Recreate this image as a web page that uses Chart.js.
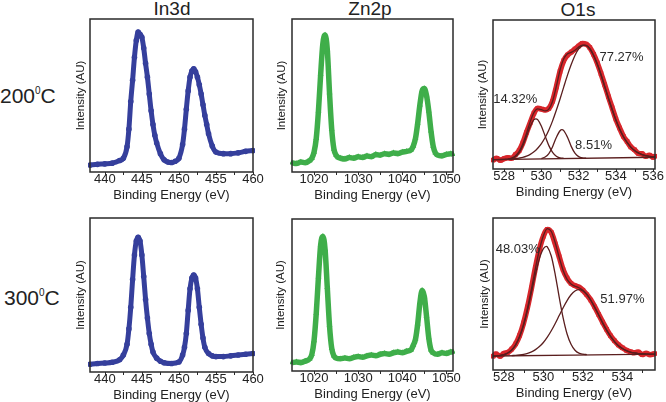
<!DOCTYPE html>
<html><head><meta charset="utf-8">
<script src="https://cdn.jsdelivr.net/npm/chart.js@4/dist/chart.umd.min.js"></script>
<style>
html,body{margin:0;padding:0;background:#fff}
body{width:666px;height:402px;overflow:hidden;position:relative;font-family:"Liberation Sans",Arial,sans-serif;color:#222}
canvas{position:absolute}
.lbl{position:absolute;white-space:nowrap;line-height:1}
.ttl{position:absolute;white-space:nowrap;line-height:1;width:100px;text-align:center;font-size:19px}
</style></head><body>
<div class="ttl" style="left:122px;top:-1px">In3d</div>
<div class="ttl" style="left:320px;top:-1px">Zn2p</div>
<div class="ttl" style="left:528px;top:0px">O1s</div>
<div class="lbl" style="left:0px;top:85px;font-size:21px">200<span style="font-size:10px;position:relative;top:-8.7px">0</span>C</div>
<div class="lbl" style="left:4px;top:287px;font-size:21px">300<span style="font-size:10px;position:relative;top:-8.7px">0</span>C</div>
<script>
// ---------- DATA ----------
const IN_TICKS = [440, 445, 450, 455, 460];
const IN_MINOR = [442.5, 447.5, 452.5, 457.5];
const ZN_TICKS = [1020, 1030, 1040, 1050];
const ZN_MINOR = [1025, 1035, 1045];
const O200_TICKS = [528, 530, 532, 534, 536];
const O300_TICKS = [528, 530, 532, 534];
const O_MINOR = [529, 531, 533, 535];

const IN200_E = [438,439,440,441,442,442.5,443,443.25,443.5,443.75,444,444.25,444.5,444.75,445,445.25,445.5,445.75,446,446.25,446.5,446.75,447,447.5,448,448.5,449,449.5,450,450.5,450.75,451,451.25,451.5,451.75,452,452.25,452.5,452.75,453,453.25,453.5,453.75,454,454.5,455,456,457,458,459,460];
const IN200_I = [4.5,5,5.3,5.8,7.5,9,16.5,28,46,60,75,86,91.5,90,88,81,71,62,51,40,31,24,19,12,8,6.5,6.2,7,9,18,28,41,53,62,66,67.5,65.5,62,57,51,44,37,31,25,17,13,12,12,12.5,13.5,14];

const IN300_E = [438,439,440,441,442,442.5,443,443.25,443.5,443.75,444,444.25,444.5,444.75,445,445.25,445.5,445.75,446,446.25,446.5,447,447.5,448,449,450,450.5,450.75,451,451.25,451.5,451.75,452,452.25,452.5,452.75,453,453.25,453.5,454,454.5,455,456,457,458,459,460];
const IN300_I = [5,5.5,5.8,6.3,8,11,18,28,42,60,76,85,87.5,85,76,62,47,35,25,18,13,9,7,6,5.5,6.5,11,16,25,40,54,61,63,61,54,42,31,22,16,12,10.5,10,10,10.5,11,11.5,12];

const ZN200_E = [1015,1016,1017,1018,1019,1019.5,1020,1020.5,1021,1021.5,1022,1022.5,1023,1023.5,1024,1024.5,1025,1025.5,1026,1027,1028,1029,1030,1031,1032,1033,1034,1035,1036,1037,1038,1039,1040,1041,1042,1042.5,1043,1043.5,1044,1044.5,1045,1045.5,1046,1046.5,1047,1047.5,1048,1049,1050,1051,1051.5];
const ZN200_I = [6,5.5,6.5,6,7.5,9,13,22,40,64,84,89.5,80,52,28,15,11,9.5,9,8.5,9.5,9,10,9.5,10.5,10,11.5,11,12,11.5,12.5,12,13,13.5,14.5,17,22,32,44,53,54.5,50,40,27,17,12.5,11,10.5,11.5,12,11.5];

const ZN300_E = [1015,1016,1017,1018,1019,1019.5,1020,1020.5,1021,1021.5,1022,1022.5,1023,1023.5,1024,1024.5,1025,1026,1027,1028,1029,1030,1031,1032,1033,1034,1035,1036,1037,1038,1039,1040,1041,1042,1042.5,1043,1043.5,1044,1044.5,1045,1045.5,1046,1046.5,1047,1048,1049,1050,1051,1051.5];
const ZN300_I = [5.5,6,5.5,6.5,8,11,20,38,62,83,88.5,80,55,30,15,10,8.5,8,8.5,8,9,9.5,9,10,10.5,10,11,11.5,11,12,12.5,12,13,14,17,21,31,45,53,49,36,22,14,12,11,12,11.5,12.5,12.5];

// O1s 200 C: measured points, envelope, components, background
const O200_E = [527.4,527.6,527.8,528.0,528.2,528.4,528.6,528.8,529.0,529.2,529.4,529.6,529.8,530.0,530.2,530.4,530.6,530.8,531.0,531.2,531.4,531.6,531.8,532.0,532.2,532.4,532.6,532.8,533.0,533.2,533.4,533.6,533.8,534.0,534.2,534.4,534.6,534.8,535.0,535.2,535.4,535.6,535.8,536.0,536.1];
const O200_I = [6.0,7.2,5.9,7.0,7.5,7.2,9.6,12.3,17.5,24.5,31.0,37.5,40.8,40.2,39.6,40.6,45.5,55.0,65.5,72.8,76.5,78.5,80.5,82.5,84.3,83.8,81.5,77.0,71.2,64.0,56.5,48.5,41.0,33.5,27.5,22.0,18.5,14.8,12.9,10.5,10.2,8.6,9.3,7.9,8.6];
const O200_FIT = [6.3,6.33,6.37,6.5,6.7,7.3,8.7,11.6,16.7,23.9,31.8,37.9,40.3,39.8,39.0,40.2,45.5,55.4,66.4,74.0,77.3,78.3,79.7,81.8,83.1,82.9,80.7,76.3,70.4,63.3,55.4,47.5,39.9,32.9,26.9,21.8,17.8,14.7,12.4,10.8,9.7,8.95,8.5,8.2,8.1];
const O200_C1_E = [528.2,528.4,528.6,528.8,529.0,529.2,529.4,529.6,529.7,529.8,530.0,530.2,530.4,530.6,530.8,531.0,531.2];
const O200_C1_I = [6.6,7.1,8.2,10.9,15.5,21.9,28.7,33.1,33.7,33.1,28.7,22.1,15.7,11.2,8.6,7.5,7.1];
const O200_C2_E = [530.0,530.2,530.4,530.6,530.8,531.0,531.1,531.2,531.4,531.6,531.8,532.0,532.2,532.4];
const O200_C2_I = [7.0,8.0,10.4,15.0,21.2,25.7,26.4,25.8,21.3,15.2,10.6,8.3,7.4,7.2];
const O200_C3_E = [528.2,528.4,528.6,528.8,529.0,529.2,529.4,529.6,529.8,530.0,530.2,530.4,530.6,530.8,531.0,531.2,531.4,531.6,531.8,532.0,532.2,532.3,532.4,532.6,532.8,533.0,533.2,533.4,533.6,533.8,534.0,534.2,534.4,534.6,534.8,535.0,535.2,535.4,535.6,535.8,536.0,536.1];
const O200_C3_I = [6.5,6.7,6.9,7.3,7.8,8.6,9.8,11.5,13.9,17.0,21.1,26.2,32.3,39.4,47.0,55.1,63.0,70.1,76.2,80.6,82.8,83.1,82.9,80.7,76.3,70.4,63.3,55.4,47.5,39.9,32.9,26.9,21.8,17.8,14.7,12.4,10.8,9.7,8.95,8.5,8.2,8.1];
const O200_BASE_E = [527.4, 536.1];
const O200_BASE_I = [6.3, 7.9];
const O200_PCT = ['14.32%', '77.27%', '8.51%'];

// O1s 300 C
const O300_E = [527.45,527.6,527.8,528.0,528.2,528.4,528.6,528.8,529.0,529.2,529.4,529.6,529.8,530.0,530.2,530.4,530.6,530.8,531.0,531.2,531.4,531.6,531.8,532.0,532.2,532.4,532.6,532.8,533.0,533.2,533.4,533.6,533.8,534.0,534.2,534.4,534.6,534.8,535.0,535.2,535.4,535.65];
const O300_I = [9.0,10.6,9.1,10.9,11.6,13.8,17.2,22.8,31.0,41.5,54.0,67.5,79.5,88.0,92.5,90.5,83.0,74.5,66.0,60.5,57.0,55.5,54.5,52.5,49.5,46.0,41.5,36.5,31.5,26.8,22.5,19.2,16.5,14.6,13.0,12.0,11.3,11.8,10.2,11.0,10.1,10.8];
const O300_FIT = [9.2,9.22,9.6,10.1,11.2,13.2,16.7,22.3,30.3,40.9,53.6,67.0,79.1,88.3,93.0,91.1,83.7,74.1,65.5,59.6,56.6,55.1,54.1,52.5,49.8,45.9,41.2,36.2,31.0,26.2,22.1,18.7,16.0,14.1,12.7,11.8,11.2,10.8,10.7,10.6,10.5,10.5];
const O300_C1_E = [527.8,528.0,528.2,528.4,528.6,528.8,529.0,529.2,529.4,529.6,529.8,530.0,530.15,530.2,530.4,530.6,530.8,531.0,531.2,531.4,531.6,531.8,532.0,532.2];
const O300_C1_I = [9.6,10.1,11.2,13.1,16.5,21.8,29.4,39.5,51.2,63.1,73.3,79.8,81.3,81.0,75.0,62.8,48.0,34.3,23.7,16.9,13.0,11.1,10.4,10.1];
const O300_C2_E = [528.4,528.6,528.8,529.0,529.2,529.4,529.6,529.8,530.0,530.2,530.4,530.6,530.8,531.0,531.2,531.4,531.6,531.8,532.0,532.2,532.4,532.6,532.8,533.0,533.2,533.4,533.6,533.8,534.0,534.2,534.4,534.6,534.8,535.0,535.2];
const O300_C2_I = [9.5,9.6,9.9,10.3,10.9,11.9,13.4,15.4,18.1,21.6,25.8,30.6,35.8,41.0,45.7,49.5,52.0,52.9,52.0,49.7,45.9,41.2,36.2,31.0,26.2,22.1,18.7,16.0,14.1,12.7,11.8,11.2,10.8,10.7,10.6];
const O300_BASE_E = [527.45, 535.65];
const O300_BASE_I = [9.2, 10.5];
const O300_PCT = ['48.03%', '51.97%'];

// ---------- RENDER ----------
const FONT = '"Liberation Sans", Arial, sans-serif';
Chart.defaults.font.family = FONT;
Chart.defaults.color = '#222';
const BLUE = '#353f9c', GREEN = '#3fae4a', RED = '#d8262b', FITC = '#5a1e1e';

function pts(xs, ys) { return xs.map((x, i) => ({x: x, y: ys[i]})); }

function marks(xs, ys, color, style, r, bw) {
  return {data: pts(xs, ys), showLine: true, borderColor: color, backgroundColor: color,
    borderWidth: bw, pointStyle: style, pointRadius: r, pointBorderWidth: 0,
    pointHoverRadius: r, cubicInterpolationMode: 'monotone', order: 10, clip: 2};
}
function fit(xs, ys) {
  return {data: pts(xs, ys), showLine: true, borderColor: FITC, borderWidth: 1.3,
    pointRadius: 0, pointHoverRadius: 0, cubicInterpolationMode: 'monotone', order: 1};
}

const framePlugin = {
  id: 'frame',
  afterDatasetsDraw(chart, args, opts) {
    const ctx = chart.ctx, a = chart.chartArea, xs = chart.scales.x, ys = chart.scales.y;
    ctx.save();
    ctx.strokeStyle = '#2a2a2a';
    ctx.lineWidth = 1.5;
    ctx.strokeRect(a.left, a.top, a.right - a.left, a.bottom - a.top);
    ctx.lineWidth = 1;
    (opts.ticks || []).concat(opts.minor || []).forEach(v => {
      const px = Math.round(xs.getPixelForValue(v)) + 0.5;
      ctx.beginPath(); ctx.moveTo(px, a.bottom); ctx.lineTo(px, a.bottom + 3); ctx.stroke();
    });
    ctx.fillStyle = '#2a2a2a';
    ctx.font = '13px ' + FONT;
    ctx.textAlign = 'center';
    ctx.textBaseline = 'middle';
    (opts.labels || []).forEach(l => {
      ctx.fillText(l.text, xs.getPixelForValue(l.x), ys.getPixelForValue(l.y));
    });
    ctx.restore();
  }
};

const panels = [
  {plot: [90, 19, 253, 172], xr: [438, 460], ticks: IN_TICKS, minor: IN_MINOR, yTitleX: 81,
   datasets: [marks(IN200_E, IN200_I, BLUE, 'circle', 2.8, 5)]},
  {plot: [292, 19, 453, 172], xr: [1015, 1051.5], ticks: ZN_TICKS, minor: ZN_MINOR, yTitleX: 282,
   datasets: [marks(ZN200_E, ZN200_I, GREEN, 'triangle', 3.4, 5.5)]},
  {plot: [493, 20, 655, 169], xr: [527.4, 536.1], ticks: O200_TICKS, minor: O_MINOR, yTitleX: 483,
   datasets: [fit(O200_BASE_E, O200_BASE_I), fit(O200_C1_E, O200_C1_I), fit(O200_C2_E, O200_C2_I),
              fit(O200_C3_E, O200_C3_I), fit(O200_E, O200_FIT), marks(O200_E, O200_I, RED, 'rect', 3.2, 5.5)],
   labels: [{text: O200_PCT[0], x: 528.6, y: 46.5}, {text: O200_PCT[1], x: 534.3, y: 75}, {text: O200_PCT[2], x: 532.8, y: 15.5}]},
  {plot: [90, 218, 253, 372], xr: [438, 460], ticks: IN_TICKS, minor: IN_MINOR, yTitleX: 81,
   datasets: [marks(IN300_E, IN300_I, BLUE, 'circle', 2.8, 5)]},
  {plot: [292, 219, 453, 371], xr: [1015, 1051.5], ticks: ZN_TICKS, minor: ZN_MINOR, yTitleX: 281,
   datasets: [marks(ZN300_E, ZN300_I, GREEN, 'triangle', 3.4, 5.5)]},
  {plot: [493, 218, 655, 370], xr: [527.45, 535.65], ticks: O300_TICKS, minor: O_MINOR, yTitleX: 485,
   datasets: [fit(O300_BASE_E, O300_BASE_I), fit(O300_C1_E, O300_C1_I), fit(O300_C2_E, O300_C2_I),
              fit(O300_E, O300_FIT), marks(O300_E, O300_I, RED, 'rect', 3.2, 5.5)],
   labels: [{text: O300_PCT[0], x: 528.7, y: 79}, {text: O300_PCT[1], x: 534.0, y: 46.5}]}
];

panels.forEach(p => {
  const L = p.plot[0] - 26, T = p.plot[1] - 6;
  const W = p.plot[2] - p.plot[0] + 42, H = p.plot[3] - p.plot[1] + 40;
  const cv = document.createElement('canvas');
  cv.width = W; cv.height = H;
  cv.style.left = L + 'px'; cv.style.top = T + 'px';
  cv.style.width = W + 'px'; cv.style.height = H + 'px';
  document.body.appendChild(cv);
  new Chart(cv.getContext('2d'), {
    type: 'scatter',
    data: {datasets: p.datasets},
    plugins: [framePlugin],
    options: {
      responsive: false, animation: false, devicePixelRatio: 1,
      layout: {padding: {top: 6, right: 16, left: 0, bottom: 0}},
      plugins: {legend: {display: false}, tooltip: {enabled: false},
        frame: {ticks: p.ticks, minor: p.minor, labels: p.labels || []}},
      scales: {
        x: {type: 'linear', position: 'bottom', min: p.xr[0], max: p.xr[1],
          afterBuildTicks: s => { s.ticks = p.ticks.map(v => ({value: v})); },
          ticks: {autoSkip: false, maxRotation: 0, minRotation: 0, padding: 0,
            font: {size: 13}, color: '#222', callback: v => String(v)},
          grid: {display: false, drawTicks: false}, border: {display: false},
          title: {display: true, text: 'Binding Energy (eV)', color: '#222',
            font: {size: 13}, padding: {top: 0, bottom: 3}},
          afterFit: s => { s.height = 34; }
        },
        y: {type: 'linear', position: 'left', min: 0, max: 100,
          ticks: {display: false}, grid: {display: false, drawTicks: false}, border: {display: false},
          title: {display: true, text: 'Intensity (AU)', color: '#222', font: {size: 11.5},
            padding: {top: p.yTitleX - L - 6.9, bottom: 0}},
          afterFit: s => { s.width = 26; }
        }
      }
    }
  });
});
</script>
</body></html>
